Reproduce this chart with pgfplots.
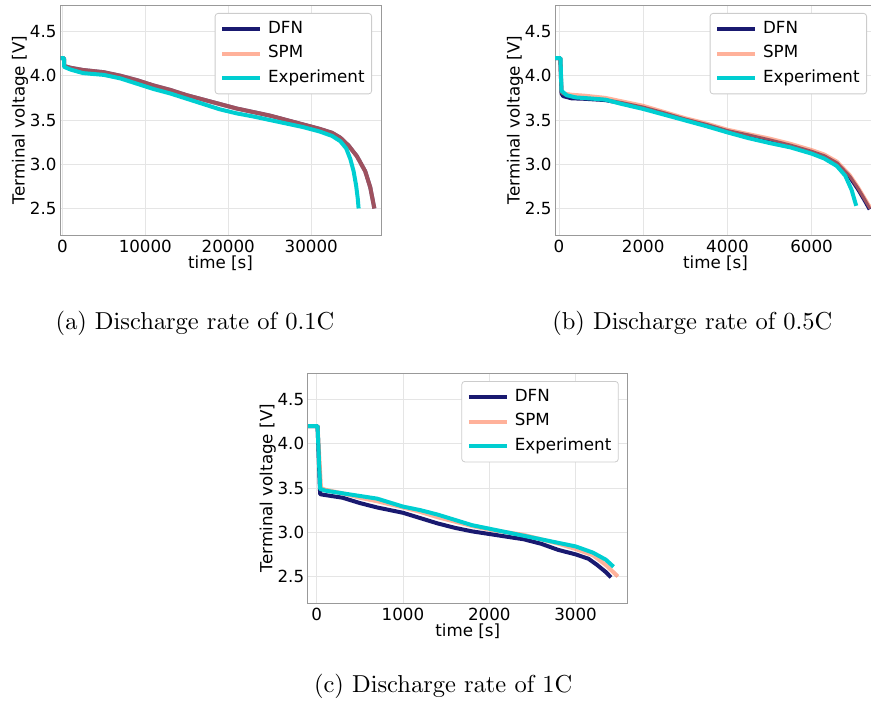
\documentclass[border=0pt]{standalone}
\usepackage{pgfplots}
\pgfplotsset{compat=1.18}
\usepackage{fontspec}
\newfontfamily\dejavu{DejaVu Sans}
\newcommand{\tickfont}{\dejavu\fontsize{16.7}{20}\selectfont}
\font\capf=cmr10 at 24.5pt
\definecolor{dfn}{RGB}{25,25,112}
\definecolor{spm}{RGB}{255,122,82}
\definecolor{expc}{RGB}{0,206,209}
\pgfplotsset{
 batt/.style={
  scale only axis, width=321pt, height=230pt,
  ymin=2.2, ymax=4.8, ytick={2.5,3.0,3.5,4.0,4.5},
  grid=major, major grid style={draw=black!10, line width=0.9pt},
  axis line style={draw=black!40, line width=0.8pt},
  major tick length=0pt,
  tick label style={font=\tickfont},
  /pgf/number format/assume math mode=true,
  yticklabel style={/pgf/number format/.cd, fixed, fixed zerofill, precision=1},
  xticklabel style={/pgf/number format/1000 sep={}, anchor=base, yshift=-17pt, inner sep=0pt},
  scaled x ticks=false,
  xlabel={time [s]}, ylabel={Terminal voltage [V]},
  every axis x label/.style={at={(axis description cs:0.5,-0.1435)}, anchor=base, font=\tickfont, inner sep=0pt},
  every axis y label/.style={at={(axis description cs:-0.1246,0.5)}, rotate=90, anchor=center, font=\tickfont, inner sep=0pt},
  legend style={at={(1,1)}, anchor=north east, xshift=-9pt, yshift=-8pt,
    draw=black!20, line width=0.8pt, rounded corners=3pt, fill=white,
    font=\tickfont, inner xsep=5pt, inner ysep=6pt, row sep=5pt, column sep=4pt,
    nodes={inner sep=2pt, text height=12pt, text depth=3.5pt}},
  legend cell align=left,
  legend image code/.code={\draw[#1,line width=4pt] (0pt,0pt) -- (38pt,0pt);},
  every axis plot/.append style={line width=4pt, line join=round},
 },
 dfnst/.style={draw=dfn},
 spmst/.style={draw=spm, draw opacity=0.58},
 expst/.style={draw=expc},
}
\begin{document}
\begin{tikzpicture}
\path[use as bounding box] (0pt,0pt) rectangle (871pt,-706pt);
% (a)
\begin{axis}[batt, at={(60pt,-235pt)}, anchor=south west,
  xmin=-280, xmax=38400, xtick={0,10000,20000,30000}]
\addplot[dfnst] coordinates {(-200,4.2)(200,4.2)(230,4.11)(1000,4.09)(2500,4.065)(5000,4.04)(7000,4.00)(9000,3.95)(11000,3.89)(13000,3.84)(15000,3.78)(17000,3.73)(19000,3.68)(21000,3.63)(23000,3.59)(25000,3.55)(27000,3.50)(29000,3.45)(31000,3.40)(32500,3.355)(33500,3.30)(34500,3.21)(35500,3.09)(36500,2.92)(37100,2.74)(37600,2.50)};
\addlegendentry{DFN}
\addplot[spmst] coordinates {(-200,4.2)(200,4.2)(230,4.11)(1000,4.09)(2500,4.065)(5000,4.04)(7000,4.00)(9000,3.95)(11000,3.89)(13000,3.84)(15000,3.78)(17000,3.73)(19000,3.68)(21000,3.63)(23000,3.59)(25000,3.55)(27000,3.50)(29000,3.45)(31000,3.40)(32500,3.355)(33500,3.30)(34500,3.21)(35500,3.09)(36500,2.92)(37100,2.74)(37600,2.50)};
\addlegendentry{SPM}
\addplot[expst] coordinates {(-200,4.2)(200,4.2)(230,4.10)(1000,4.07)(2500,4.03)(5000,4.01)(7000,3.97)(9000,3.91)(11000,3.85)(13000,3.80)(15000,3.74)(17000,3.68)(19000,3.62)(21000,3.575)(23000,3.54)(25000,3.50)(27000,3.46)(29000,3.42)(31000,3.37)(32500,3.32)(33500,3.26)(34200,3.18)(34700,3.06)(35100,2.92)(35400,2.76)(35600,2.61)(35700,2.50)};
\addlegendentry{Experiment}
\end{axis}
% (b)
\begin{axis}[batt, at={(555pt,-235pt)}, anchor=south west,
  xmin=-95, xmax=7530, xtick={0,2000,4000,6000}]
\addplot[dfnst] coordinates {(-100,4.2)(30,4.2)(60,3.80)(100,3.77)(300,3.745)(600,3.74)(1100,3.725)(1500,3.69)(2000,3.64)(2500,3.575)(3000,3.505)(3500,3.445)(4000,3.375)(4500,3.325)(5000,3.27)(5500,3.21)(6000,3.14)(6300,3.09)(6600,3.01)(6900,2.86)(7100,2.72)(7250,2.60)(7380,2.49)};
\addlegendentry{DFN}
\addplot[spmst] coordinates {(-100,4.2)(30,4.2)(60,3.82)(100,3.80)(300,3.785)(600,3.775)(1100,3.75)(1500,3.71)(2000,3.66)(2500,3.59)(3000,3.52)(3500,3.46)(4000,3.39)(4500,3.34)(5000,3.29)(5500,3.23)(6000,3.16)(6300,3.11)(6600,3.03)(6900,2.88)(7100,2.74)(7250,2.62)(7400,2.50)};
\addlegendentry{SPM}
\addplot[expst] coordinates {(-100,4.2)(35,4.2)(60,3.83)(180,3.78)(400,3.755)(700,3.745)(1100,3.73)(1500,3.68)(2000,3.625)(2500,3.56)(3000,3.495)(3500,3.43)(4000,3.36)(4500,3.295)(5000,3.24)(5500,3.19)(6000,3.12)(6300,3.065)(6600,2.98)(6800,2.87)(6950,2.71)(7060,2.53)};
\addlegendentry{Experiment}
\end{axis}
% (c)
\begin{axis}[batt, at={(307.7pt,-603pt)}, anchor=south west, width=320pt,
  xmin=-104, xmax=3604, xtick={0,1000,2000,3000}]
\addplot[dfnst] coordinates {(-100,4.2)(10,4.2)(40,3.43)(100,3.42)(300,3.39)(500,3.33)(700,3.28)(1000,3.22)(1200,3.16)(1400,3.10)(1600,3.05)(1800,3.01)(2000,2.98)(2200,2.95)(2400,2.92)(2600,2.87)(2800,2.80)(3000,2.75)(3150,2.70)(3250,2.63)(3350,2.55)(3410,2.49)};
\addlegendentry{DFN}
\addplot[spmst] coordinates {(-100,4.2)(10,4.2)(50,3.50)(100,3.48)(300,3.44)(500,3.39)(700,3.35)(1000,3.28)(1200,3.23)(1400,3.17)(1600,3.12)(1800,3.07)(2000,3.03)(2200,3.00)(2400,2.97)(2600,2.92)(2800,2.87)(3000,2.81)(3200,2.74)(3350,2.63)(3490,2.50)};
\addlegendentry{SPM}
\addplot[expst] coordinates {(-100,4.2)(10,4.2)(40,3.49)(100,3.47)(300,3.44)(500,3.41)(700,3.38)(1000,3.29)(1200,3.25)(1400,3.20)(1600,3.14)(1800,3.08)(2000,3.04)(2200,3.00)(2400,2.96)(2600,2.92)(2800,2.88)(3000,2.84)(3200,2.77)(3350,2.69)(3440,2.61)};
\addlegendentry{Experiment}
\end{axis}
\node[anchor=base, font=\capf] at (195pt,-329pt) {(a) Discharge rate of 0.1C};
\node[anchor=base, font=\capf] at (692.5pt,-329pt) {(b) Discharge rate of 0.5C};
\node[anchor=base, font=\capf] at (443.3pt,-692pt) {(c) Discharge rate of 1C};
\end{tikzpicture}
\end{document}
